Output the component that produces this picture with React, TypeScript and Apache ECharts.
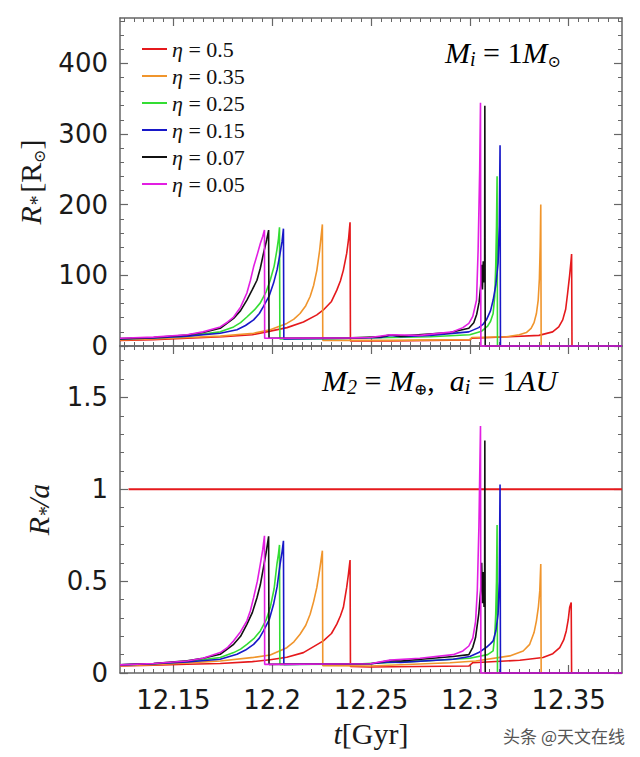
import React, { useEffect, useRef } from 'react';
import * as echarts from 'echarts';

// ---------- data ----------
const etaNames = ['η = 0.5', 'η = 0.35', 'η = 0.25', 'η = 0.15', 'η = 0.07', 'η = 0.05'];
const etaColors = ['#e5191c', '#f0952c', '#33dd33', '#1818c8', '#111111', '#e21ee2'];

// Top panel: stellar radius R* [R_sun] vs t [Gyr]
const radiusEta050: [number, number][] = [
  [12.123, 8], [12.14, 9], [12.157, 11], [12.175, 13], [12.19, 16], [12.199, 21], [12.2075, 26],
  [12.2158, 34], [12.2226, 44], [12.2259, 51], [12.23, 63], [12.2327, 79], [12.2345, 92],
  [12.236, 107], [12.2377, 131], [12.2386, 150], [12.2394, 175], [12.2396, 7], [12.26, 7],
  [12.28, 8], [12.3, 8.5], [12.301, 11], [12.32, 13], [12.335, 15], [12.3419, 20], [12.345, 27],
  [12.347, 37], [12.3485, 52], [12.3495, 75], [12.3505, 100], [12.3512, 120], [12.3515, 130],
  [12.3517, 0], [12.377, 0],
];
const radiusEta035: [number, number][] = [
  [12.123, 8.5], [12.14, 10], [12.157, 12], [12.1737, 14], [12.1906, 18], [12.199, 23],
  [12.2074, 32], [12.211, 38], [12.2141, 46], [12.217, 57], [12.2192, 70], [12.221, 86],
  [12.2226, 107], [12.224, 135], [12.2254, 172], [12.2256, 8], [12.26, 8], [12.3, 9],
  [12.301, 12], [12.3185, 13], [12.325, 16], [12.3286, 19], [12.331, 25], [12.3325, 33],
  [12.3337, 46], [12.3346, 65], [12.3352, 95], [12.3356, 140], [12.3359, 200], [12.3361, 0], [12.377, 0],
];
const radiusEta025: [number, number][] = [
  [12.123, 10], [12.14, 11.5], [12.157, 14], [12.1737, 20], [12.1805, 27], [12.184, 33],
  [12.1872, 41], [12.191, 51], [12.194, 61], [12.197, 77], [12.199, 93], [12.201, 113],
  [12.2024, 136], [12.2032, 152], [12.2037, 168], [12.2039, 10], [12.23, 10.5], [12.26, 12],
  [12.28, 13], [12.3, 16], [12.306, 21], [12.309, 28], [12.3105, 35], [12.3118, 46],
  [12.3126, 70], [12.3131, 112], [12.3135, 170], [12.3138, 240], [12.314, 0], [12.377, 0],
];
const radiusEta015: [number, number][] = [
  [12.123, 10], [12.14, 11.5], [12.157, 14], [12.1737, 18], [12.1822, 23], [12.1865, 29],
  [12.1906, 37], [12.1935, 46], [12.1956, 56], [12.1985, 71], [12.2007, 89], [12.2025, 108],
  [12.204, 131], [12.205, 148], [12.2057, 166], [12.2059, 10], [12.24, 11], [12.255, 12],
  [12.26, 15], [12.265, 13], [12.28, 15], [12.2995, 20], [12.3045, 26], [12.3068, 31],
  [12.3084, 37], [12.3105, 50], [12.3118, 65], [12.3132, 87], [12.3143, 117], [12.3149, 170],
  [12.3153, 284], [12.3155, 0], [12.377, 0],
];
const radiusEta007: [number, number][] = [
  [12.123, 10.5], [12.14, 12], [12.157, 15.5], [12.165, 19], [12.1737, 25], [12.1805, 39],
  [12.184, 50], [12.1872, 65], [12.19, 80], [12.1923, 93], [12.194, 110], [12.1956, 131],
  [12.1972, 150], [12.1982, 164], [12.1984, 11], [12.24, 11.5], [12.255, 13], [12.26, 16],
  [12.265, 14], [12.29, 19], [12.2995, 25], [12.302, 33], [12.3035, 45], [12.3047, 62],
  [12.3055, 85], [12.306, 115], [12.3064, 80], [12.3068, 120], [12.3072, 90], [12.3075, 110],
  [12.3076, 340], [12.3078, 0], [12.377, 0],
];
const radiusEta005: [number, number][] = [
  [12.123, 11], [12.14, 12.5], [12.157, 16], [12.165, 20], [12.1737, 27], [12.1775, 34],
  [12.1805, 41], [12.184, 55], [12.1872, 75], [12.189, 93], [12.1906, 112], [12.1925, 130],
  [12.194, 145], [12.1952, 155], [12.1961, 164], [12.1962, 11], [12.24, 11.5], [12.2496, 12],
  [12.2596, 16], [12.2747, 15], [12.2914, 20], [12.2965, 26], [12.2995, 32], [12.3015, 42],
  [12.3034, 65], [12.3042, 136], [12.305, 250], [12.3054, 344], [12.3056, 0], [12.377, 0],
];

// Bottom panel: R*/a vs t [Gyr]
const ratioEta050: [number, number][] = [
  [12.123, 0.038], [12.14, 0.042], [12.157, 0.048], [12.1737, 0.052], [12.19, 0.062],
  [12.199, 0.072], [12.2074, 0.086], [12.2158, 0.111], [12.2259, 0.175], [12.23, 0.215],
  [12.2327, 0.266], [12.2345, 0.31], [12.236, 0.356], [12.2377, 0.466], [12.2386, 0.54],
  [12.2394, 0.615], [12.2396, 0.036], [12.2495, 0.033], [12.2995, 0.038], [12.3015, 0.056],
  [12.3253, 0.069], [12.337, 0.084], [12.342, 0.105], [12.3455, 0.138], [12.3475, 0.18],
  [12.3488, 0.229], [12.3498, 0.29], [12.3505, 0.356], [12.3513, 0.384], [12.3515, 0], [12.377, 0],
];
const ratioEta035: [number, number][] = [
  [12.123, 0.04], [12.14, 0.045], [12.157, 0.055], [12.1737, 0.065], [12.1906, 0.085],
  [12.199, 0.098], [12.2074, 0.138], [12.211, 0.17], [12.2141, 0.211], [12.217, 0.26],
  [12.2192, 0.32], [12.221, 0.39], [12.2226, 0.466], [12.224, 0.56], [12.2254, 0.666],
  [12.2256, 0.04], [12.2495, 0.038], [12.29, 0.056], [12.303, 0.065], [12.3202, 0.093],
  [12.327, 0.12], [12.3303, 0.156], [12.3325, 0.22], [12.3337, 0.284], [12.3347, 0.36],
  [12.3354, 0.447], [12.3359, 0.593], [12.3361, 0], [12.377, 0],
];
const ratioEta025: [number, number][] = [
  [12.123, 0.044], [12.14, 0.05], [12.157, 0.062], [12.1737, 0.084], [12.1805, 0.111],
  [12.184, 0.13], [12.1872, 0.156], [12.191, 0.19], [12.194, 0.229], [12.197, 0.29],
  [12.199, 0.356], [12.201, 0.46], [12.2024, 0.593], [12.2032, 0.65], [12.2037, 0.697],
  [12.2039, 0.047], [12.24, 0.048], [12.27, 0.062], [12.3, 0.08], [12.309, 0.1],
  [12.3118, 0.12], [12.3126, 0.2], [12.3131, 0.32], [12.3135, 0.5], [12.3138, 0.806],
  [12.314, 0], [12.377, 0],
];
const ratioEta015: [number, number][] = [
  [12.123, 0.044], [12.14, 0.05], [12.157, 0.06], [12.1737, 0.075], [12.1822, 0.102],
  [12.1865, 0.125], [12.1906, 0.156], [12.1935, 0.19], [12.1956, 0.229], [12.1985, 0.29],
  [12.2007, 0.374], [12.2025, 0.47], [12.204, 0.593], [12.205, 0.66], [12.2057, 0.72],
  [12.2059, 0.047], [12.25, 0.05], [12.2596, 0.06], [12.265, 0.058], [12.2916, 0.075],
  [12.3, 0.09], [12.3045, 0.111], [12.3084, 0.14], [12.3105, 0.16], [12.3118, 0.175],
  [12.3132, 0.23], [12.3143, 0.32], [12.3149, 0.5], [12.3153, 1.026], [12.3155, 0], [12.377, 0],
];
const ratioEta007: [number, number][] = [
  [12.123, 0.045], [12.14, 0.052], [12.157, 0.066], [12.165, 0.08], [12.1737, 0.102],
  [12.1805, 0.156], [12.184, 0.2], [12.1872, 0.265], [12.19, 0.33], [12.1923, 0.41],
  [12.194, 0.48], [12.1956, 0.575], [12.197, 0.66], [12.1982, 0.744], [12.1984, 0.047],
  [12.25, 0.05], [12.2596, 0.068], [12.265, 0.065], [12.2916, 0.09], [12.2995, 0.1],
  [12.3015, 0.14], [12.3029, 0.193], [12.3045, 0.32], [12.3055, 0.45], [12.306, 0.6],
  [12.3064, 0.38], [12.3068, 0.55], [12.3072, 0.36], [12.3075, 0.5], [12.3076, 1.266],
  [12.3078, 0], [12.377, 0],
];
const ratioEta005: [number, number][] = [
  [12.123, 0.044], [12.14, 0.052], [12.157, 0.065], [12.165, 0.08], [12.1737, 0.111],
  [12.1775, 0.14], [12.1805, 0.175], [12.184, 0.225], [12.1872, 0.284], [12.189, 0.34],
  [12.1906, 0.41], [12.1925, 0.5], [12.194, 0.593], [12.1952, 0.67], [12.1961, 0.747],
  [12.1962, 0.047], [12.2495, 0.05], [12.2596, 0.07], [12.2747, 0.08], [12.2916, 0.1],
  [12.2965, 0.12], [12.2995, 0.147], [12.3015, 0.19], [12.3029, 0.28], [12.3038, 0.45],
  [12.3046, 0.8], [12.3054, 1.344], [12.3056, 0], [12.377, 0],
];
// R*/a = 1 limit line
const limitLine: [number, number][] = [[12.1273, 1], [12.377, 1]];

const radiusSeries = [radiusEta050, radiusEta035, radiusEta025, radiusEta015, radiusEta007, radiusEta005];
const ratioSeries = [ratioEta050, ratioEta035, ratioEta025, ratioEta015, ratioEta007, ratioEta005];

// ---------- axes ----------
const X_MIN = 12.123;
const X_MAX = 12.377;
const xMajorTicks = [12.15, 12.2, 12.25, 12.3, 12.35];
const xMinorStep = 0.005;
const Y_TOP_MAX = 464;
const yTopMajorTicks = [0, 100, 200, 300, 400];
const yTopMinorStep = 20;
const Y_BOT_MAX = 1.78;
const yBotMajorTicks = [0, 0.5, 1, 1.5];
const yBotMinorStep = 0.1;

function stepTicks(from: number, to: number, step: number): number[] {
  const out: number[] = [];
  const n = Math.floor((to - from) / step + 1e-9);
  for (let i = 0; i <= n; i++) out.push(+(from + i * step).toFixed(4));
  return out;
}
const xMinorTicks = stepTicks(12.125, X_MAX, xMinorStep);
const yTopMinorTicks = stepTicks(0, Y_TOP_MAX, yTopMinorStep);
const yBotMinorTicks = stepTicks(0, Y_BOT_MAX, yBotMinorStep);

const FRAME = '#666666';
const LABEL_FONT = { fontFamily: 'DejaVu Sans', fontSize: 26, color: '#1a1a1a' };
const MATH_RICH = {
  i: { fontFamily: 'Liberation Serif', fontStyle: 'italic', fontSize: 30, color: '#1a1a1a', lineHeight: 34 },
  r: { fontFamily: 'Liberation Serif', fontSize: 30, color: '#1a1a1a', lineHeight: 34 },
  s: { fontFamily: 'Liberation Serif', fontStyle: 'italic', fontSize: 20, color: '#1a1a1a', verticalAlign: 'bottom', lineHeight: 28 },
  u: { fontFamily: 'DejaVu Serif', fontSize: 16, color: '#1a1a1a', verticalAlign: 'bottom', lineHeight: 26 },
};

function xAxesFor(grid: number, withLabels: boolean) {
  const base = {
    type: 'value', gridIndex: grid, min: X_MIN, max: X_MAX,
    splitLine: { show: false },
  };
  const major = (pos: string, labels: boolean, extra: any = {}) => ({
    ...base, position: pos,
    axisLine: { show: true, onZero: false, lineStyle: { color: FRAME, width: 1.5 } },
    axisTick: { show: true, inside: true, length: 8, customValues: xMajorTicks, lineStyle: { color: FRAME, width: 1.2 } },
    axisLabel: { show: labels, customValues: xMajorTicks, margin: 14, ...LABEL_FONT },
    ...extra,
  });
  const minor = (pos: string) => ({
    ...base, position: pos,
    axisLine: { show: false, onZero: false },
    axisTick: { show: true, inside: true, length: 4, customValues: xMinorTicks, lineStyle: { color: FRAME, width: 1 } },
    axisLabel: { show: false },
  });
  return [
    major('bottom', withLabels, withLabels ? {
      name: '{i|t}{r|[Gyr]}', nameLocation: 'middle', nameGap: 43,
      nameTextStyle: { rich: MATH_RICH },
    } : {}),
    minor('bottom'),
    major('top', false),
    minor('top'),
  ];
}

function yAxesFor(grid: number, max: number, majors: number[], minors: number[], name: string, nameGap: number) {
  const base = { type: 'value', gridIndex: grid, min: 0, max, splitLine: { show: false } };
  const major = (pos: string, labels: boolean, extra: any = {}) => ({
    ...base, position: pos,
    axisLine: { show: true, onZero: false, lineStyle: { color: FRAME, width: 1.5 } },
    axisTick: { show: true, inside: true, length: 8, customValues: majors, lineStyle: { color: FRAME, width: 1.2 } },
    axisLabel: { show: labels, customValues: majors, margin: 12, ...LABEL_FONT },
    ...extra,
  });
  const minor = (pos: string) => ({
    ...base, position: pos,
    axisLine: { show: false, onZero: false },
    axisTick: { show: true, inside: true, length: 4, customValues: minors, lineStyle: { color: FRAME, width: 1 } },
    axisLabel: { show: false },
  });
  return [
    major('left', true, {
      name, nameLocation: 'middle', nameGap, nameRotate: 90,
      nameTextStyle: { rich: MATH_RICH },
    }),
    minor('left'),
    major('right', false),
    minor('right'),
  ];
}

export default function App() {
  const ref = useRef<HTMLDivElement>(null);
  useEffect(() => {
    if (!ref.current) return;
    const chart = echarts.init(ref.current, null, { renderer: 'svg' });

    const series: any[] = [];
    etaNames.forEach((name, k) => {
      series.push({
        type: 'line', name, data: radiusSeries[k], xAxisIndex: 0, yAxisIndex: 0,
        symbol: 'none', clip: false, z: 3 + k,
        lineStyle: { color: etaColors[k], width: 1.6 }, itemStyle: { color: etaColors[k] },
      });
    });
    series.push({
      type: 'line', name: 'R*/a = 1', data: limitLine, xAxisIndex: 4, yAxisIndex: 4,
      symbol: 'none', clip: false, z: 2,
      lineStyle: { color: '#e5191c', width: 2 }, itemStyle: { color: '#e5191c' },
    });
    etaNames.forEach((name, k) => {
      series.push({
        type: 'line', name, data: ratioSeries[k], xAxisIndex: 4, yAxisIndex: 4,
        symbol: 'none', clip: false, z: 3 + k,
        lineStyle: { color: etaColors[k], width: 1.6 }, itemStyle: { color: etaColors[k] },
      });
    });

    chart.setOption({
      animation: false,
      backgroundColor: '#ffffff',
      grid: [
        { left: 120, top: 18, width: 502, height: 328 },
        { left: 120, top: 346, width: 502, height: 327 },
      ],
      xAxis: [...xAxesFor(0, false), ...xAxesFor(1, true)],
      yAxis: [
        ...yAxesFor(0, Y_TOP_MAX, yTopMajorTicks, yTopMinorTicks, '{i|R}{s|*} {r|[R}{u|⊙}{r|]}', 64),
        ...yAxesFor(1, Y_BOT_MAX, yBotMajorTicks, yBotMinorTicks, '{i|R}{s|*}{i|/a}', 60),
      ],
      legend: {
        data: etaNames,
        orient: 'vertical',
        left: 137,
        top: 33,
        icon: 'rect',
        itemWidth: 25,
        itemHeight: 2,
        itemGap: 5,
        formatter: (n: string) => '{e|η}{t|' + n.slice(1) + '}',
        textStyle: {
          lineHeight: 21,
          rich: {
            e: { fontFamily: 'Liberation Serif', fontStyle: 'italic', fontSize: 22, color: '#111', lineHeight: 21 },
            t: { fontFamily: 'Liberation Serif', fontSize: 22, color: '#111', lineHeight: 21 },
          },
        },
      },
      graphic: [
        {
          type: 'text', x: 445, y: 52,
          style: {
            text: '{i|M}{s|i}{r| = 1}{i|M}{u|⊙}', rich: MATH_RICH,
            align: 'left', verticalAlign: 'middle',
          },
        },
        {
          type: 'text', x: 322, y: 380,
          style: {
            text: '{i|M}{s|2}{r| = }{i|M}{u|⊕}{r|,  }{i|a}{s|i}{r| = 1}{i|AU}', rich: MATH_RICH,
            align: 'left', verticalAlign: 'middle',
          },
        },
        {
          type: 'text', x: 625, y: 735,
          style: {
            text: '头条 @天文在线', fontFamily: 'Noto Sans CJK SC', fontSize: 17, fill: '#555555',
            align: 'right', verticalAlign: 'middle',
          },
        },
      ],
      series,
    });
    return () => chart.dispose();
  }, []);
  return <div ref={ref} style={{ position: 'fixed', left: 0, top: 0, width: 640, height: 757 }} />;
}
